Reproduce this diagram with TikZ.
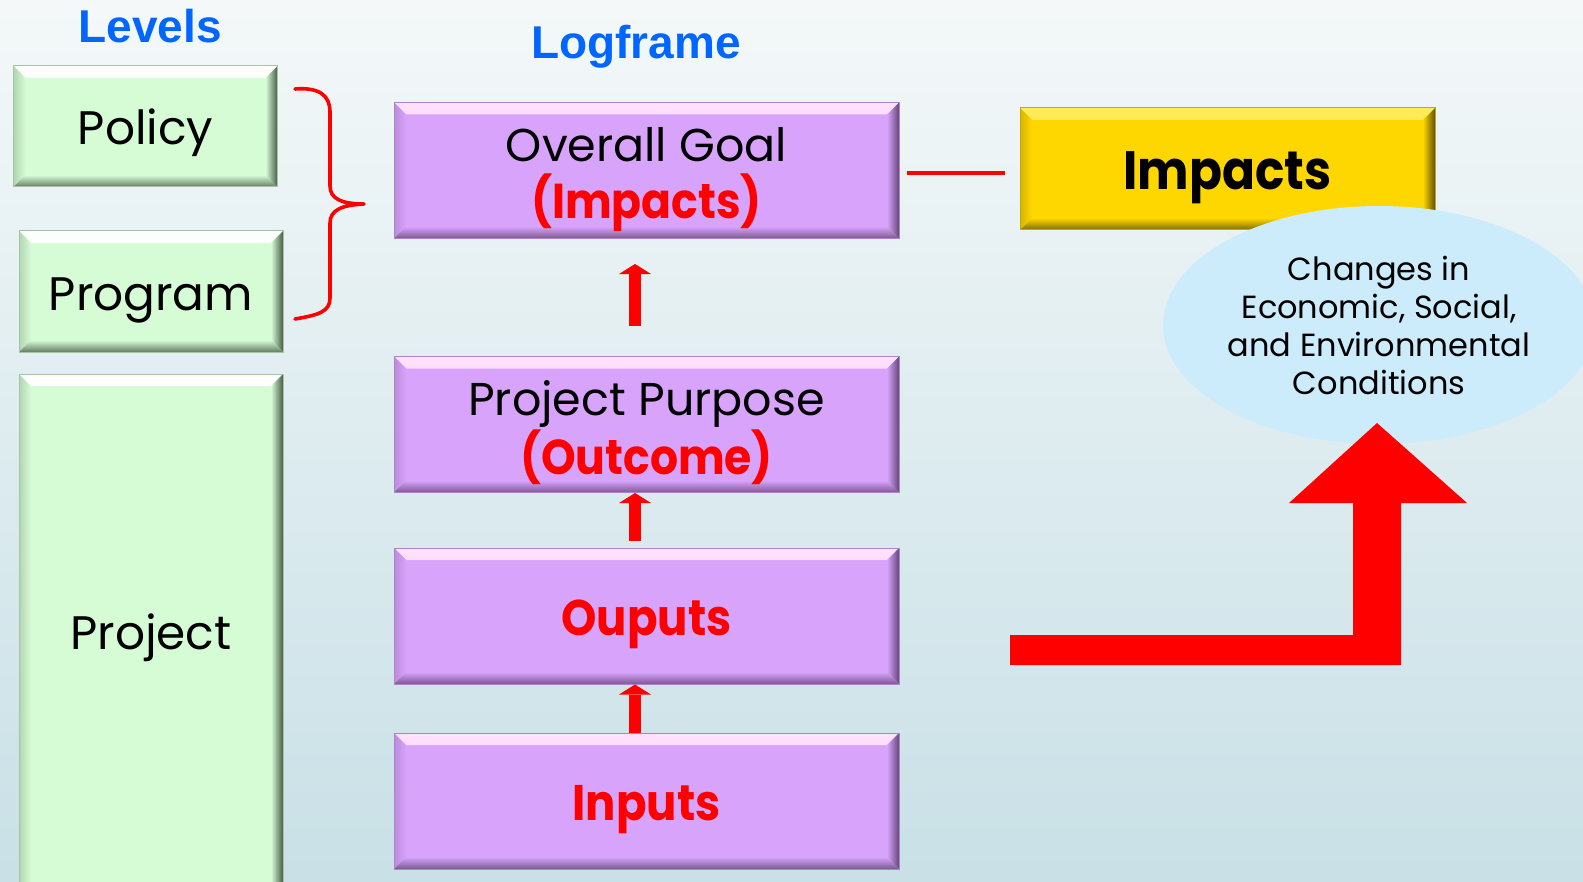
\documentclass[tikz,border=0pt]{standalone}
\usepackage{fontspec}
\setmainfont{Poppins}
\newfontfamily\headfont{Liberation Sans}
\newfontfamily\boldfam{Poppins}[FakeStretch=0.9]
\usetikzlibrary{arrows.meta,shapes.geometric}

\definecolor{bgtop}{RGB}{244,248,249}
\definecolor{bgbot}{RGB}{200,224,230}
\definecolor{lvlfill}{RGB}{214,252,214}
\definecolor{lvldark}{RGB}{70,92,70}
\definecolor{lgfill}{RGB}{216,163,251}
\definecolor{lglight}{RGB}{255,226,255}
\definecolor{lgdark}{RGB}{100,70,120}
\definecolor{impfill}{RGB}{255,215,0}
\definecolor{implight}{RGB}{255,236,90}
\definecolor{impdark}{RGB}{95,80,0}
\definecolor{cloudfill}{RGB}{204,236,252}
\definecolor{headblue}{RGB}{0,102,255}
\definecolor{hot}{RGB}{255,0,0}

\tikzset{
  bevel/.style n args={3}{
    fill=#1, draw=#3!35!#1, line width=0.5pt, inner sep=0pt,
    path picture={
      % raised top edge
      \shade[top color=#2, bottom color=#1]
        (path picture bounding box.north west) -- (path picture bounding box.north east)
        -- ([shift={(-6pt,-6pt)}]path picture bounding box.north east)
        -- ([shift={(6pt,-6pt)}]path picture bounding box.north west) -- cycle;
      % left edge
      \shade[left color=#3!25!#1, right color=#1]
        (path picture bounding box.north west) -- ([shift={(6pt,-6pt)}]path picture bounding box.north west)
        -- ([shift={(6pt,6pt)}]path picture bounding box.south west)
        -- (path picture bounding box.south west) -- cycle;
      % shadowed right edge
      \shade[left color=#1, right color=#3]
        (path picture bounding box.north east) -- (path picture bounding box.south east)
        -- ([shift={(-6pt,6pt)}]path picture bounding box.south east)
        -- ([shift={(-6pt,-6pt)}]path picture bounding box.north east) -- cycle;
      % shadowed bottom edge
      \shade[top color=#1, bottom color=#3!80!#1]
        (path picture bounding box.south west) -- (path picture bounding box.south east)
        -- ([shift={(-6pt,6pt)}]path picture bounding box.south east)
        -- ([shift={(6pt,6pt)}]path picture bounding box.south west) -- cycle;
    }},
  lvlbox/.style={bevel={lvlfill}{white}{lvldark}, minimum width=132pt, minimum height=60.5pt},
  lgbox/.style={bevel={lgfill}{lglight}{lgdark}, minimum width=252.5pt, minimum height=68pt},
  impbox/.style={bevel={impfill}{implight}{impdark}, minimum width=207.5pt, minimum height=61pt},
  head/.style={font=\headfont\bfseries\fontsize{23pt}{27pt}\selectfont, text=headblue, inner sep=0pt},
  lvltxt/.style={font=\fontsize{23.5pt}{28pt}\selectfont, inner sep=0pt},
  lgtxt/.style={font=\fontsize{23pt}{28pt}\selectfont, inner sep=0pt},
  lgred/.style={font=\boldfam\bfseries\fontsize{24.5pt}{28pt}\selectfont, text=hot, inner sep=0pt},
  uparrow/.style={draw=hot, line width=6pt,
    -{Triangle[width=16pt,length=5pt,line width=0pt]}},
}

\begin{document}
\begin{tikzpicture}[x=0.5pt,y=-0.5pt]
\useasboundingbox (0,0) rectangle (1583,882);
\shade[top color=bgtop, bottom color=bgbot] (0,0) rectangle (1583,882);

% column headings
\node[head, anchor=base] (levels) at (150,43) {Levels};
\node[head, anchor=base] (logframe) at (636,59) {Logframe};

% levels column
\node[lvlbox] (pol) at (145.5,126.5) {};
\node[lvlbox] (prog) at (151,291.5) {};
\node[lvlbox, minimum height=263pt] (proj) at (151,637) {};
\node[lvltxt, anchor=base] (polT) at ([yshift=-9.25pt]pol.center) {Policy};
\node[lvltxt, anchor=base] (progT) at ([yshift=-9.25pt]prog.center) {Program};
\node[lvltxt, anchor=base] (projT) at ([yshift=-6pt]proj.center) {Project};

% brace grouping policy and program
\draw[hot, line width=1.8pt, line cap=round, line join=round]
  (295,89) .. controls (320,87) and (330,96) .. (330,112) -- (330,186)
  .. controls (330,199) and (342,204) .. (364,204)
  .. controls (342,205) and (330,210) .. (330,223) -- (330,298)
  .. controls (330,312) and (318,315) .. (295,319);

% logframe column
\node[lgbox] (og) at (646.5,170.5) {};
\node[lgbox] (pp) at (646.5,424.5) {};
\node[lgbox] (out) at (646.5,616) {};
\node[lgbox] (inp) at (646.5,801) {};
\node[lgtxt, anchor=base] (ogA) at ([yshift=4.25pt]og.center) {Overall Goal};
\node[lgred, anchor=base] (ogB) at ([yshift=-24.25pt]og.center) {(Impacts)};
\node[lgtxt, anchor=base] (ppA) at ([yshift=4.75pt]pp.center) {Project Purpose};
\node[lgred, anchor=base] (ppB) at ([yshift=-24.75pt]pp.center) {(Outcome)};
\node[lgred, font=\boldfam\bfseries\fontsize{25pt}{28pt}\selectfont, anchor=base] (outT) at ([yshift=-9.5pt]out.center) {Ouputs};
\node[lgred, font=\boldfam\bfseries\fontsize{25pt}{28pt}\selectfont, anchor=base] (inpT) at ([yshift=-9.5pt]inp.center) {Inputs};

% upward links between logframe levels
\draw[uparrow, shorten <=15pt, shorten >=12.5pt] ([xshift=-5.75pt]pp.north) -- ([xshift=-5.75pt]og.south);
\draw[uparrow, shorten <=3.5pt] ([xshift=-5.75pt]out.north) -- ([xshift=-5.75pt]pp.south);
\draw[uparrow] ([xshift=-5.75pt]inp.north) -- ([xshift=-5.75pt]out.south);

% impacts box and its description
\node[impbox] (imp) at (1227.5,169) {};
\node[font=\boldfam\bfseries\fontsize{27pt}{30pt}\selectfont, inner sep=0pt, anchor=base] (impT) at ([yshift=-10.5pt]imp.center) {Impacts};
\draw[hot, line width=2pt, shorten <=3.5pt, shorten >=7.5pt] ([yshift=-1.25pt]og.east) -- ([yshift=-1.25pt]og.east -| imp.west);

\node[ellipse, fill=cloudfill, minimum width=216pt, minimum height=119pt, inner sep=0pt,
      align=center, font=\fontsize{16pt}{19pt}\selectfont] (cloud) at (1379,325)
  {Changes in\\Economic, Social,\\and Environmental\\Conditions};

% bent arrow pointing up to the description
\fill[hot] (1010,635) -- (1353,635) -- (1353,503) -- (1289,503) -- (1377,423)
  -- (1467,503) -- (1401,503) -- (1401,665) -- (1010,665) -- cycle;
\end{tikzpicture}
\end{document}
